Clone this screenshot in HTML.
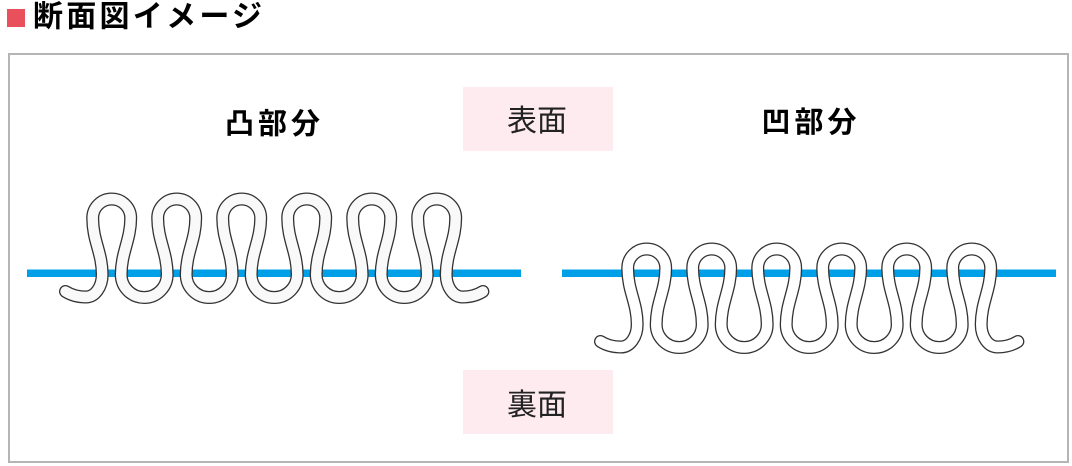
<!DOCTYPE html>
<html>
<head>
<meta charset="utf-8">
<style>
  html, body { margin: 0; padding: 0; background: #ffffff; }
  body { width: 1072px; height: 466px; overflow: hidden; }
  svg { display: block; }
  text { font-family: "Liberation Sans", "Noto Sans CJK JP", sans-serif; }
</style>
</head>
<body>
<svg width="1072" height="466" viewBox="0 0 1072 466" xmlns="http://www.w3.org/2000/svg">
  <defs>
    <path id="wave" d="M 65.5,291.5 C 71,295 78,297 86,297 C 95,297 102.2,287 102.2,274.5 C 102.2,252.5 92.7,241 92.7,218 C 92.7,207.5 101.2,199 111.7,199
      c 10.5,0 19,8.5 19,19 c 0,22 -9.5,34.5 -9.5,56.5 c 0,12.7 10.3,23 23,23 c 12.7,0 23,-10.3 23,-23 c 0,-22 -9.5,-34.5 -9.5,-56.5 c 0,-10.5 8.5,-19 19,-19
      c 10.5,0 19,8.5 19,19 c 0,22 -9.5,34.5 -9.5,56.5 c 0,12.7 10.3,23 23,23 c 12.7,0 23,-10.3 23,-23 c 0,-22 -9.5,-34.5 -9.5,-56.5 c 0,-10.5 8.5,-19 19,-19
      c 10.5,0 19,8.5 19,19 c 0,22 -9.5,34.5 -9.5,56.5 c 0,12.7 10.3,23 23,23 c 12.7,0 23,-10.3 23,-23 c 0,-22 -9.5,-34.5 -9.5,-56.5 c 0,-10.5 8.5,-19 19,-19
      c 10.5,0 19,8.5 19,19 c 0,22 -9.5,34.5 -9.5,56.5 c 0,12.7 10.3,23 23,23 c 12.7,0 23,-10.3 23,-23 c 0,-22 -9.5,-34.5 -9.5,-56.5 c 0,-10.5 8.5,-19 19,-19
      c 10.5,0 19,8.5 19,19 c 0,22 -9.5,34.5 -9.5,56.5 c 0,12.7 10.3,23 23,23 c 12.7,0 23,-10.3 23,-23 c 0,-22 -9.5,-34.5 -9.5,-56.5 c 0,-10.5 8.5,-19 19,-19
      c 10.5,0 19,8.5 19,19 c 0,22 -9.5,34.5 -9.5,56.5
      C 446.2,287 453.4,297 462.4,297 C 470.4,297 477.4,295 482.9,291.5"/>
  </defs>

  <!-- Title -->
  <rect x="7" y="9" width="18" height="18" fill="#e8505b"/>
  <text x="33" y="26.5" font-size="30" font-weight="bold" fill="#000" textLength="229" lengthAdjust="spacing">断面図イメージ</text>

  <!-- Frame -->
  <rect x="9" y="54" width="1059" height="408" fill="#ffffff" stroke="#b5b5b5" stroke-width="2"/>

  <!-- Labels -->
  <rect x="463" y="87" width="150" height="64" fill="#fdebf0"/>
  <text x="507" y="131" font-size="30" fill="#222">表面</text>

  <rect x="463" y="370" width="150" height="64" fill="#fdebf0"/>
  <text x="507" y="415" font-size="30" fill="#222">裏面</text>

  <text x="225" y="133.5" font-size="29" font-weight="bold" fill="#000" textLength="95" lengthAdjust="spacing">凸部分</text>
  <text x="761.5" y="132" font-size="29" font-weight="bold" fill="#000" textLength="95" lengthAdjust="spacing">凹部分</text>

  <!-- Blue lines -->
  <rect x="27" y="269.5" width="494" height="7.5" fill="#00a0e9"/>
  <rect x="562" y="269.5" width="494" height="7.5" fill="#00a0e9"/>

  <!-- Left wave -->
  <g fill="none" stroke-linecap="round" stroke-linejoin="round">
    <use href="#wave" stroke="#333333" stroke-width="13"/>
    <use href="#wave" stroke="#f9f9f9" stroke-width="10.4"/>
  </g>

  <!-- Right wave -->
  <g fill="none" stroke-linecap="round" stroke-linejoin="round" transform="translate(535,50)">
    <use href="#wave" stroke="#333333" stroke-width="13"/>
    <use href="#wave" stroke="#ffffff" stroke-width="10.4"/>
  </g>
</svg>
</body>
</html>
